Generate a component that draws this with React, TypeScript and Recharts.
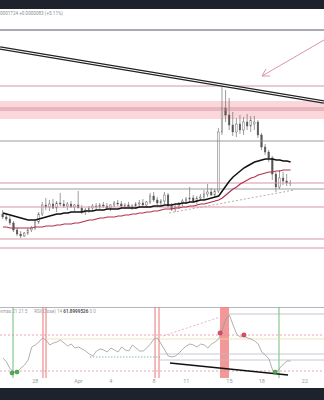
import React from "react";
import {
  ComposedChart, Bar, Line, XAxis, YAxis, ReferenceLine, ReferenceArea, ReferenceDot,
} from "recharts";

// 8h candles, [open, high, low, close]
const candles: [number, number, number, number][] = [
  [106, 110, 101, 103], [103, 107, 99, 101], [101, 104, 95, 97], [97, 99, 88, 90], [90, 92, 84, 86],
  [86, 89, 82, 84], [84, 88, 83, 87], [87, 92, 85, 90], [90, 94, 88, 92], [92, 100, 90, 98],
  [98, 108, 96, 106], [106, 118, 104, 115], [115, 122, 110, 113], [113, 120, 109, 116], [116, 121, 111, 112],
  [112, 119, 108, 117], [117, 127, 114, 116], [116, 120, 112, 114], [114, 118, 110, 116], [116, 119, 112, 113],
  [113, 116, 109, 115], [115, 129, 112, 112], [112, 115, 106, 108], [108, 112, 105, 110], [110, 114, 107, 112],
  [112, 116, 109, 114], [114, 117, 110, 113], [113, 117, 111, 115], [115, 118, 112, 114], [114, 117, 110, 112],
  [112, 116, 109, 115], [115, 119, 113, 117], [117, 120, 114, 116], [116, 119, 112, 114], [114, 117, 111, 115],
  [115, 118, 112, 113], [113, 116, 110, 114], [114, 118, 111, 116], [116, 120, 113, 117], [117, 121, 114, 115],
  [115, 119, 113, 118], [118, 127, 116, 124], [124, 128, 118, 120], [120, 123, 115, 117], [117, 121, 114, 119],
  [119, 128, 116, 125], [125, 127, 112, 114], [114, 117, 109, 111], [111, 115, 108, 113], [113, 118, 111, 117],
  [117, 121, 114, 119], [119, 123, 116, 121], [121, 133, 118, 122], [122, 125, 117, 119], [119, 124, 116, 122],
  [122, 126, 119, 123], [123, 130, 120, 126], [126, 136, 123, 128], [128, 132, 124, 125], [125, 131, 123, 129],
  [129, 192, 127, 188], [188, 233, 185, 212], [212, 230, 198, 205], [205, 222, 190, 195], [195, 208, 184, 188],
  [188, 202, 183, 196], [196, 205, 186, 190], [190, 203, 185, 198], [198, 206, 190, 194], [194, 204, 188, 200],
  [196, 204, 190, 198], [198, 200, 182, 185], [185, 187, 170, 173], [173, 176, 165, 168], [168, 170, 158, 162],
  [162, 164, 140, 146], [146, 148, 128, 133], [133, 150, 131, 142], [142, 148, 135, 139], [139, 146, 134, 137],
  [137, 140, 134, 137],
];

const fastMa = [
  107, 106, 105, 104, 103, 102, 101, 100, 100, 100, 101, 102, 103, 104, 105, 106, 106, 107, 107, 108,
  108, 108, 108, 109, 109, 109, 110, 110, 110, 111, 111, 111, 111, 112, 112, 112, 112, 112, 113, 113,
  113, 113, 114, 114, 114, 115, 115, 115, 116, 116, 117, 117, 118, 118, 119, 120, 120, 121, 122, 123,
  124, 129, 134, 139, 143, 146, 149, 152, 154, 156, 158, 159, 160, 161, 161, 161, 160, 160, 159, 159, 158,
];

const slowMa = [
  93, 93, 92, 92, 92, 92, 92, 92, 92, 93, 93, 93, 94, 94, 94, 95, 95, 96, 96, 96,
  97, 97, 98, 99, 100, 100, 101, 102, 102, 103, 103, 103, 104, 104, 105, 105, 106, 106, 107, 107,
  108, 108, 109, 109, 110, 111, 111, 111, 112, 112, 113, 113, 114, 114, 115, 116, 116, 117, 118, 119,
  120, 122, 125, 128, 131, 133, 136, 138, 140, 142, 143, 145, 146, 147, 148, 148, 149, 149, 150, 150, 150,
];

const rsi = [
  20, 16, 9, 6, 6, 10, 13, 18, 31, 33, 36, 40, 38, 33, 35, 36, 38, 35, 32, 34,
  30, 31, 29, 27, 24, 22, 27, 29, 28, 26, 30, 28, 26, 31, 28, 27, 33, 30, 27, 27,
  30, 34, 39, 40, 34, 28, 22, 21, 22, 25, 29, 32, 34, 33, 31, 34, 33, 30, 34, 36,
  39, 48, 59, 63, 53, 44, 41, 42, 40, 39, 37, 34, 26, 23, 19, 8, 5, 10, 14, 17, 17,
];

const tickIdx = [0, 9, 21, 30, 42, 51, 63, 72, 84];
const tickLabels = ["25", "28", "Apr", "4", "8", "11", "15", "18", "22"];

const pinkLevels = [234, 137, 113, 81, 72];
const grayLevels = [179, 131];
const supplyZone = [201, 219];
const supplyEdges = [212, 210];

const X_MIN = -0.83;
const X_MAX = 89.3;

const rows = candles.map((c, i) => ({
  x: i, range: [c[2], c[1]], o: c[0], h: c[1], l: c[2], c: c[3], fast: fastMa[i], slow: slowMa[i],
}));
const rsiRows = rsi.map((u, i) => ({ x: i, u }));

const redLines = [11.13, 11.97, 42.3, 43.4];
const greenLines = [2.79, 76.78];
const signalBand = [60.37, 62.87];
const bullDots = [[2.51, 5], [3.9, 6], [75.7, 6]];
const bearDots = [[60.4, 45], [67.04, 43]];

function Candle(props: any) {
  const { x, y, width, height, payload } = props;
  if (x == null || !payload) return null;
  const top = Math.min(y, y + height);
  const hh = Math.abs(height);
  const span = payload.h - payload.l || 1;
  const py = (v: number) => top + ((payload.h - v) / span) * hh;
  const b1 = py(Math.max(payload.o, payload.c));
  const b2 = py(Math.min(payload.o, payload.c));
  const cx = x + width / 2;
  const up = payload.c >= payload.o;
  return (
    <g>
      <line x1={cx} x2={cx} y1={top} y2={top + hh} stroke="#5a5a5a" strokeWidth={0.6} />
      <rect x={cx - 0.8} y={b1} width={1.6} height={Math.max(b2 - b1, 0.7)} fill={up ? "#f6f6f6" : "#555"} stroke="#555" strokeWidth={0.4} />
    </g>
  );
}

function DayTick(props: any) {
  const { x, y, payload } = props;
  const k = tickIdx.indexOf(payload.value);
  return (
    <text x={x} y={y} dy={5} textAnchor="middle" fontSize={5.5} fill="#9a9ca4" fontFamily="Roboto, sans-serif">
      {tickLabels[k]}
    </text>
  );
}

export default function App() {
  return (
    <div style={{ position: "absolute", left: 0, top: 0, width: 324, height: 400, background: "#fff", overflow: "hidden", fontFamily: "Roboto, sans-serif" }}>
      <div style={{ position: "absolute", left: 0, top: 0, width: 324, height: 9, background: "#1e222d" }} />
      <div style={{ position: "absolute", left: 0, top: 11, fontSize: 4.6, color: "#8a8d96", whiteSpace: "nowrap" }}>
        0001724 +0.0000083 (+5.11%)
      </div>
      <div style={{ position: "absolute", left: 0, top: 29, width: 324, height: 1.5, background: "#a9abb2" }} />

      <div style={{ position: "absolute", left: 0, top: 30 }}>
        <ComposedChart width={324} height={277} data={rows} margin={{ top: 0, right: 0, bottom: 0, left: 0 }}>
          <XAxis dataKey="x" type="number" domain={[X_MIN, X_MAX]} hide allowDataOverflow />
          <YAxis type="number" domain={[13, 290]} hide allowDataOverflow />
          <ReferenceArea y1={supplyZone[0]} y2={supplyZone[1]} fill="#fbd3d8" fillOpacity={0.9} stroke="none" ifOverflow="hidden" />
          {supplyEdges.map((v) => (
            <ReferenceLine key={"e" + v} y={v} stroke="#cf8593" strokeWidth={0.8} />
          ))}
          {pinkLevels.map((v) => (
            <ReferenceLine key={"p" + v} y={v} stroke="#d895a4" strokeWidth={1} />
          ))}
          {grayLevels.map((v) => (
            <ReferenceLine key={"g" + v} y={v} stroke="#8e9098" strokeWidth={0.9} />
          ))}
          <ReferenceLine segment={[{ x: 46.2, y: 107 }, { x: 81, y: 130 }]} stroke="#9a9a9a" strokeDasharray="2 2" strokeWidth={0.8} ifOverflow="hidden" />
          <Line dataKey="slow" stroke="#b3304f" strokeWidth={1.2} dot={false} isAnimationActive={false} />
          <Line dataKey="fast" stroke="#111" strokeWidth={1.5} dot={false} isAnimationActive={false} />
          <Bar dataKey="range" barSize={3} shape={<Candle />} isAnimationActive={false} />
          <ReferenceLine segment={[{ x: X_MIN, y: 272 }, { x: X_MAX, y: 218 }]} stroke="#222" strokeWidth={3.6} ifOverflow="hidden" />
          <ReferenceLine segment={[{ x: X_MIN, y: 272 }, { x: X_MAX, y: 218 }]} stroke="#fff" strokeWidth={1.2} ifOverflow="hidden" />
          <ReferenceLine segment={[{ x: X_MAX, y: 280 }, { x: 72.05, y: 244 }]} stroke="#d48a9e" strokeWidth={0.9} ifOverflow="hidden" />
          <ReferenceLine segment={[{ x: 72.05, y: 244 }, { x: 74.27, y: 244 }]} stroke="#d48a9e" strokeWidth={0.9} ifOverflow="hidden" />
          <ReferenceLine segment={[{ x: 72.05, y: 244 }, { x: 73.16, y: 251 }]} stroke="#d48a9e" strokeWidth={0.9} ifOverflow="hidden" />
        </ComposedChart>
      </div>

      <div style={{ position: "absolute", left: 0, top: 306.5, width: 324, height: 1, background: "#b4b6bd" }} />
      <div style={{ position: "absolute", left: 0, top: 307 }}>
        <ComposedChart width={324} height={81} data={rsiRows} margin={{ top: 0, right: 0, bottom: 0, left: 0 }}>
          <XAxis dataKey="x" type="number" domain={[X_MIN, X_MAX]} ticks={tickIdx} tick={<DayTick />} axisLine={false} tickLine={false} tickSize={0} tickMargin={0} height={10} allowDataOverflow />
          <YAxis type="number" domain={[0, 71]} hide allowDataOverflow />
          <ReferenceArea x1={signalBand[0]} x2={signalBand[1]} fill="#f28585" fillOpacity={0.85} stroke="none" ifOverflow="hidden" />
          {redLines.map((v) => (
            <ReferenceLine key={"r" + v} x={v} stroke="#ee8080" strokeWidth={1.1} />
          ))}
          {greenLines.map((v) => (
            <ReferenceLine key={"gr" + v} x={v} stroke="#6cbf74" strokeWidth={1} />
          ))}
          <ReferenceLine segment={[{ x: 62.87, y: 64 }, { x: X_MAX, y: 64 }]} stroke="#b4b6bd" strokeWidth={0.8} ifOverflow="hidden" />
          <ReferenceLine y={43} stroke="#e48ca0" strokeDasharray="2 2" strokeWidth={0.8} />
          <ReferenceLine segment={[{ x: 11.13, y: 39 }, { x: X_MAX, y: 39 }]} stroke="#f0d9a8" strokeWidth={0.8} ifOverflow="hidden" />
          <ReferenceLine segment={[{ x: 24.2, y: 21 }, { x: 43.7, y: 21 }]} stroke="#6aa6a6" strokeDasharray="1.5 1.5" strokeWidth={0.8} ifOverflow="hidden" />
          <ReferenceLine segment={[{ x: 43.7, y: 24 }, { x: X_MAX, y: 24 }]} stroke="#b8bcc6" strokeWidth={0.8} ifOverflow="hidden" />
          <ReferenceLine segment={[{ x: 43.7, y: 18 }, { x: X_MAX, y: 18 }]} stroke="#b8bcc6" strokeWidth={0.8} ifOverflow="hidden" />
          <ReferenceLine y={7} stroke="#e48ca0" strokeDasharray="2 2" strokeWidth={0.8} />
          <ReferenceLine segment={[{ x: 44.5, y: 42 }, { x: 62.87, y: 64 }]} stroke="#e8a0b0" strokeDasharray="2 2" strokeWidth={0.8} ifOverflow="hidden" />
          <Line dataKey="u" stroke="#9c9c9c" strokeWidth={0.8} dot={false} isAnimationActive={false} />
          <ReferenceLine segment={[{ x: 46.46, y: 15 }, { x: 79.3, y: 3 }]} stroke="#111" strokeWidth={1.6} ifOverflow="hidden" />
          {bullDots.map(([x, y]) => (
            <ReferenceDot key={"b" + x} x={x} y={y} r={2} fill="#4caf50" stroke="#2e7d32" strokeWidth={0.5} />
          ))}
          {bearDots.map(([x, y]) => (
            <ReferenceDot key={"s" + x} x={x} y={y} r={2.2} fill="#d9506a" stroke="#b03050" strokeWidth={0.5} />
          ))}
        </ComposedChart>
      </div>
      <div style={{ position: "absolute", left: 0, top: 309, fontSize: 4.6, color: "#9a9ca4", whiteSpace: "nowrap" }}>
        vmas 21 21 5 &nbsp;&nbsp;&nbsp;&nbsp; RSI(Close) 14 <b style={{ color: "#555" }}>61.8999526</b> 0 0
      </div>
      <div style={{ position: "absolute", left: 0, top: 388, width: 324, height: 12, background: "#1e222d" }} />
    </div>
  );
}
